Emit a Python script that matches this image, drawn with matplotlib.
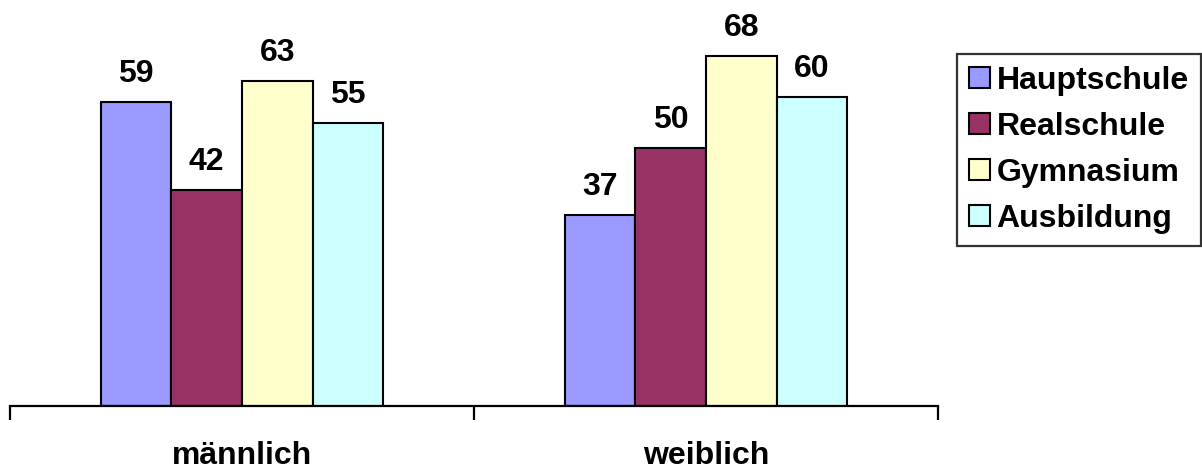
import numpy as np
import matplotlib.pyplot as plt

plt.rcParams['font.family'] = ['Liberation Sans', 'DejaVu Sans']
plt.rcParams['font.weight'] = 'bold'

categories = ['männlich', 'weiblich']
series = ['Hauptschule', 'Realschule', 'Gymnasium', 'Ausbildung']
hauptschule = [59, 37]
realschule = [42, 50]
gymnasium = [63, 68]
ausbildung = [55, 60]
colors = ['#9999FF', '#993366', '#FFFFCC', '#CCFFFF']

values = [hauptschule, realschule, gymnasium, ausbildung]

fig = plt.figure(figsize=(12.02, 4.70), dpi=100)
ax = fig.add_axes([10/1202, 1 - 406/470, 928/1202, 406/470])

x = np.arange(len(categories)) + 0.5
width = 0.152
offsets = (np.arange(len(series)) - 1.5) * width

for vals, name, col, off in zip(values, series, colors, offsets):
    bars = ax.bar(x + off, vals, width, color=col, edgecolor='black',
                  linewidth=1.5, label=name)
    for b, v in zip(bars, vals):
        ax.text(b.get_x() + b.get_width() / 2, v + 3.9, str(v),
                ha='center', va='baseline', fontsize=23, fontweight='bold')

ax.set_xlim(0, 2)
ax.set_ylim(0, 78.8)
for s in ['top', 'right', 'left']:
    ax.spines[s].set_visible(False)
ax.spines['bottom'].set_linewidth(1.6)
ax.set_yticks([])
ax.set_xticks([0, 1, 2])
ax.set_xticklabels([])
ax.tick_params(axis='x', which='major', direction='out', length=10, width=1.6)
ax.set_xticks(x, minor=True)
ax.set_xticklabels(categories, minor=True, fontsize=23, fontweight='bold')
ax.tick_params(axis='x', which='minor', length=0, pad=25)

leg = fig.legend(loc='upper left', bbox_to_anchor=(957/1202, 1 - 54/470),
                 frameon=True, fancybox=False, edgecolor='black',
                 prop={'size': 23, 'weight': 'bold'},
                 handlelength=0.65, handleheight=0.65, handletextpad=0.22,
                 labelspacing=0.5, borderpad=0.37, borderaxespad=0)
leg.get_frame().set_linewidth(1.6)

fig.savefig('out.png', dpi=100)
